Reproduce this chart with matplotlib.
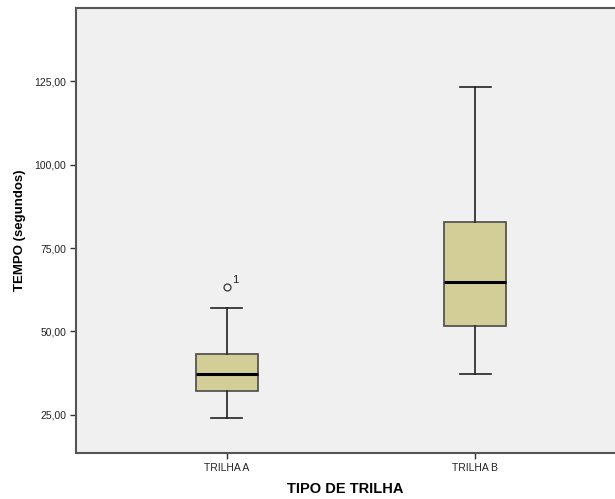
import matplotlib
matplotlib.use("Agg")
import matplotlib.pyplot as plt

categories = ["TRILHA A", "TRILHA B"]
whislo = [24.2, 37.2]
q1 = [32.2, 51.6]
med = [37.2, 64.7]
q3 = [43.2, 82.7]
whishi = [57.1, 123.3]
outliers = [[63.2], []]
outlier_labels = [["1"], []]
yticks = [25, 50, 75, 100, 125]

plt.rcParams['font.family'] = ['Liberation Sans', 'DejaVu Sans']

fig = plt.figure(figsize=(6.15, 4.99), dpi=100)
ax = fig.add_axes([76/615, 46/499, 1 - 76/615, (453-8)/499])
ax.set_facecolor('#F0F0F0')

stats = []
for i in range(len(categories)):
    stats.append(dict(label=categories[i], whislo=whislo[i], q1=q1[i], med=med[i],
                      q3=q3[i], whishi=whishi[i], fliers=outliers[i]))

positions = [1, 2]
ax.bxp(stats, positions=positions, widths=0.25, patch_artist=True,
       boxprops=dict(facecolor='#D3CE98', edgecolor='#4a4a4a', linewidth=1.2),
       medianprops=dict(color='black', linewidth=2.2),
       whiskerprops=dict(color='#222222', linewidth=1.2),
       capprops=dict(color='#222222', linewidth=1.2),
       capwidths=0.125,
       flierprops=dict(marker='o', markersize=5, markerfacecolor='none',
                       markeredgecolor='#333333', markeredgewidth=0.9))

for i, (vals, labs) in enumerate(zip(outliers, outlier_labels)):
    for v, l in zip(vals, labs):
        ax.annotate(l, (positions[i], v), xytext=(4, 3), textcoords='offset points',
                    fontsize=8, color='#222222')

ax.set_xlim(1 - 150/247, 2 + 139/247)
ax.set_ylim(13.6, 146.9)
ax.set_yticks(yticks)
ax.set_yticklabels([f"{t:.2f}".replace('.', ',') for t in yticks], fontsize=7.5, color='#222222')
ax.set_xticks(positions)
ax.set_xticklabels(categories, fontsize=7.5, color='#222222')
ax.tick_params(axis='both', length=4, width=1, color='#333333', pad=3)

for s in ['left', 'bottom', 'top']:
    ax.spines[s].set_color('#555555')
    ax.spines[s].set_linewidth(1.5)
ax.spines['right'].set_visible(False)

ax.set_ylabel("TEMPO (segundos)", fontsize=9.5, fontweight='bold', labelpad=6)
ax.set_xlabel("TIPO DE TRILHA", fontsize=10.5, fontweight='bold', labelpad=7)

fig.savefig("out.png", dpi=100)
